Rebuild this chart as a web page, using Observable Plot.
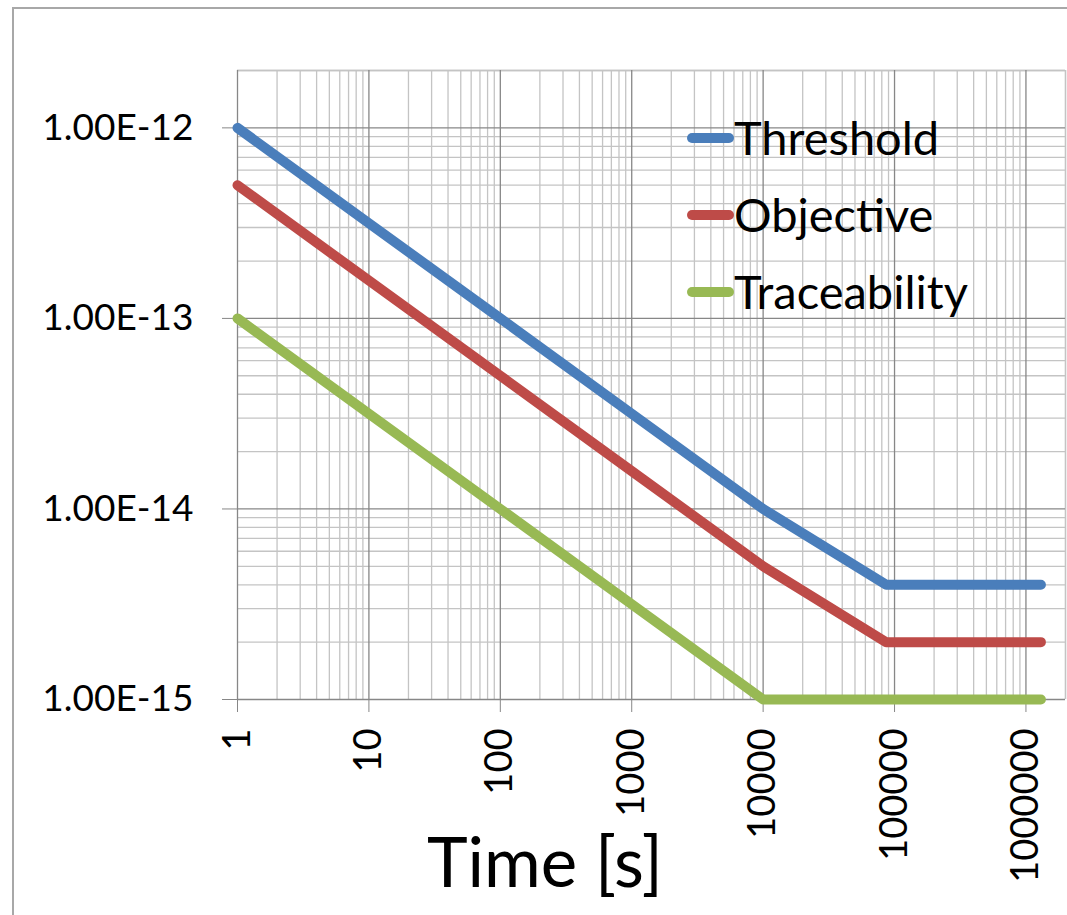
<!DOCTYPE html>
<html>
<head>
<meta charset="utf-8">
<script src="https://cdn.jsdelivr.net/npm/d3@7"></script>
<script src="https://cdn.jsdelivr.net/npm/@observablehq/plot@0.6"></script>
<style>
  html, body { margin: 0; padding: 0; background: #fff; }
  body { width: 1067px; height: 915px; position: relative; overflow: hidden; font-family: Lato, "Open Sans", sans-serif; }
  #border { position: absolute; left: 12px; top: 7px; width: 1300px; height: 1300px; border: 2px solid #a8a8a8; box-sizing: border-box; pointer-events: none; }
  #chart { position: absolute; left: 0; top: 0; }
  #legend { position: absolute; left: 687px; top: 99px; }
  .row { display: flex; align-items: center; height: 77px; }
  .sw { display: inline-block; width: 47px; height: 10px; border-radius: 5px; }
  .lab { font-size: 47px; color: #000; line-height: 1; margin-left: 0px; }
  #xtitle { position: absolute; left: 427px; top: 826px; font-size: 69px; line-height: 1; color: #000; white-space: nowrap; }
</style>
</head>
<body>
<div id="chart"></div>
<div id="legend"></div>
<div id="xtitle">Time [s]</div>
<div id="border"></div>
<script>
// ---- data ----
const seriesNames = ["Threshold", "Objective", "Traceability"];
const seriesColors = ["#4a7ebb", "#be4b48", "#98b954"];
const times = [1, 10, 100, 1000, 10000, 86400, 1300000];
const threshold = [1e-12, 3.16e-13, 1e-13, 3.16e-14, 1e-14, 4e-15, 4e-15];
const objective = [5e-13, 1.58e-13, 5e-14, 1.58e-14, 5e-15, 2e-15, 2e-15];
const traceability = [1e-13, 3.16e-14, 1e-14, 3.16e-15, 1e-15, 1e-15, 1e-15];
const xTicks = [1, 10, 100, 1000, 10000, 100000, 1000000];
const yTicks = [1e-15, 1e-14, 1e-13, 1e-12];
const xDomain = [1, 2e6];
const yDomain = [1e-15, 2e-12];

// ---- build table ----
const seriesValues = [threshold, objective, traceability];
const rows = [];
seriesNames.forEach((name, i) => {
  times.forEach((t, j) => rows.push({series: name, t, v: seriesValues[i][j]}));
});

// minor grid positions (2..9 within each decade)
const minorX = [];
xTicks.forEach(d => { for (let k = 2; k <= 9; k++) { const v = d * k; if (v <= xDomain[1]) minorX.push(v); } });
const minorY = [];
yTicks.forEach(d => { for (let k = 2; k <= 9; k++) { const v = d * k; if (v <= yDomain[1] * 1.0001) minorY.push(v); } });

const minorColor = "#c4c4c4";
const majorColor = "#878787";

const chart = Plot.plot({
  width: 1067,
  height: 915,
  marginLeft: 237,
  marginRight: 2,
  marginTop: 70,
  marginBottom: 216,
  style: {fontFamily: "Lato, 'Open Sans', sans-serif", color: "#000", background: "transparent"},
  x: {type: "log", domain: xDomain},
  y: {type: "log", domain: yDomain},
  color: {domain: seriesNames, range: seriesColors},
  marks: [
    Plot.ruleX(minorX, {stroke: minorColor, strokeWidth: 1.3}),
    Plot.ruleY(minorY, {stroke: minorColor, strokeWidth: 1.3}),
    Plot.ruleX([xDomain[1]], {stroke: minorColor, strokeWidth: 1.3}),
    Plot.ruleY([yDomain[1]], {stroke: minorColor, strokeWidth: 1.3}),
    Plot.ruleX(xTicks, {stroke: majorColor, strokeWidth: 1.3}),
    Plot.ruleY(yTicks, {stroke: majorColor, strokeWidth: 1.3}),
    Plot.axisX({
      ticks: xTicks, tickFormat: d => String(d), tickRotate: -90,
      tickSize: 13, tickPadding: 16, fontSize: 38, stroke: majorColor, label: null
    }),
    Plot.axisY({
      ticks: yTicks, tickFormat: d => d.toExponential(2).toUpperCase(),
      tickSize: 15, tickPadding: 29, fontSize: 37, stroke: majorColor, label: null
    }),
    Plot.line(rows, {
      x: "t", y: "v", z: "series", stroke: "series",
      strokeWidth: 10, strokeLinejoin: "round", strokeLinecap: "round", clip: false
    })
  ]
});
document.getElementById("chart").appendChild(chart);

// ---- legend (HTML overlay inside the plot area) ----
const legend = document.getElementById("legend");
seriesNames.forEach((name, i) => {
  const row = document.createElement("div");
  row.className = "row";
  const sw = document.createElement("span");
  sw.className = "sw";
  sw.style.background = seriesColors[i];
  const lab = document.createElement("span");
  lab.className = "lab";
  lab.textContent = name;
  row.appendChild(sw);
  row.appendChild(lab);
  legend.appendChild(row);
});
</script>
</body>
</html>
